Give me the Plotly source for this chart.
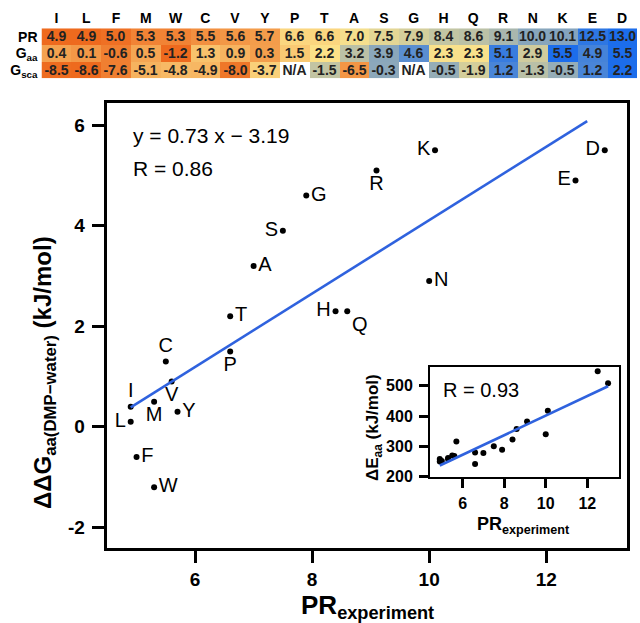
import numpy as np
import plotly.graph_objects as go

# ---------------- data ----------------
amino = ["I", "L", "F", "M", "W", "C", "V", "Y", "P", "T",
         "A", "S", "G", "H", "Q", "R", "N", "K", "E", "D"]
pr_exp = [4.9, 4.9, 5.0, 5.3, 5.3, 5.5, 5.6, 5.7, 6.6, 6.6,
          7.0, 7.5, 7.9, 8.4, 8.6, 9.1, 10.0, 10.1, 12.5, 13.0]
g_aa = [0.4, 0.1, -0.6, 0.5, -1.2, 1.3, 0.9, 0.3, 1.5, 2.2,
        3.2, 3.9, 4.6, 2.3, 2.3, 5.1, 2.9, 5.5, 4.9, 5.5]
g_sca = [-8.5, -8.6, -7.6, -5.1, -4.8, -4.9, -8.0, -3.7, None, -1.5,
         -6.5, -0.3, None, -0.5, -1.9, 1.2, -1.3, -0.5, 1.2, 2.2]
de_aa = [258, 250, 252, 258, 262, 270, 268, 316, 280, 242,
         278, 300, 289, 323, 357, 382, 340, 417, 548, 508]
row_labels = ["PR", "G<sub>aa</sub>", "G<sub>sca</sub>"]
label_pos = ["top center", "middle left", "middle right", "bottom center", "middle right",
             "top center", "bottom center", "middle right", "bottom center", "middle right",
             "middle right", "middle left", "middle right", "middle left", "bottom right",
             "bottom center", "middle right", "middle left", "middle left", "middle left"]
main_slope, main_intercept = 0.73, -3.19
main_fit_x = [4.9, 12.7]
main_r, inset_r = 0.86, 0.93

FONT = "Liberation Sans, Arial, Helvetica, sans-serif"
H = 623.0
W = 640.0


def px_x(p):
    return p / W


def px_y(p):
    return 1 - p / H


def three_color(vals):
    arr = np.array([v for v in vals if v is not None], dtype=float)
    lo, med, hi = arr.min(), np.median(arr), arr.max()
    out = []
    for v in vals:
        if v is None:
            out.append(None)
        elif v <= med:
            out.append(0.5 * (v - lo) / (med - lo))
        else:
            out.append(0.5 + 0.5 * (v - med) / (hi - med))
    return out


rows = [pr_exp, g_aa, g_sca]
z = [three_color(r) for r in rows]
txt = [["N/A" if v is None else f"{v:.1f}" for v in r] for r in rows]

fig = go.Figure()

fig.add_trace(go.Heatmap(
    z=z, x=list(range(len(amino))), y=[0, 1, 2], text=txt,
    texttemplate="%{text}", textfont=dict(family=FONT, size=14, color="#222", weight="bold"),
    colorscale=[[0, "#EE6A1E"], [0.5, "#FCE38A"], [1, "#1C6DEB"]],
    zmin=0, zmax=1, showscale=False, hoverongaps=False,
    xaxis="x", yaxis="y"))

# main scatter
fig.add_trace(go.Scatter(
    x=pr_exp, y=g_aa, mode="markers+text", text=amino, textposition=label_pos,
    marker=dict(size=6, color="black"),
    textfont=dict(family=FONT, size=20, color="black"),
    xaxis="x2", yaxis="y2", cliponaxis=False))
fx = np.array(main_fit_x)
fig.add_trace(go.Scatter(
    x=fx, y=main_slope * fx + main_intercept, mode="lines",
    line=dict(color="#2F62DE", width=2.6), xaxis="x2", yaxis="y2"))

# inset
b, a = np.polyfit(pr_exp, de_aa, 1)
ix = np.array([min(pr_exp), max(pr_exp)])
fig.add_trace(go.Scatter(
    x=pr_exp, y=de_aa, mode="markers", marker=dict(size=6, color="black"),
    xaxis="x3", yaxis="y3"))
fig.add_trace(go.Scatter(
    x=ix, y=b * ix + a, mode="lines", line=dict(color="#2F62DE", width=2.6),
    xaxis="x3", yaxis="y3"))

bold = dict(family=FONT, color="black", weight="bold")

fig.update_layout(
    width=640, height=623, margin=dict(l=0, r=0, t=0, b=0, autoexpand=False),
    paper_bgcolor="white", plot_bgcolor="white", showlegend=False,
    font=dict(family=FONT, color="black"),
    xaxis=dict(domain=[px_x(41.5), px_x(637)], range=[-0.5, 19.5], side="top",
               tickvals=list(range(len(amino))), ticktext=amino, showgrid=False,
               zeroline=False, ticks="", tickfont=dict(size=14, **bold), anchor="y",
               ticklabelstandoff=2, automargin=False),
    yaxis=dict(domain=[px_y(78.3), px_y(28.3)], range=[2.5, -0.5],
               tickvals=[0, 1, 2], ticktext=row_labels, showgrid=False, zeroline=False,
               ticks="", tickfont=dict(size=14, **bold), anchor="x", ticklabelstandoff=3,
               automargin=False),
    xaxis2=dict(domain=[px_x(106.7), px_x(627)], range=[4.49, 13.38], anchor="y2",
                tickvals=[6, 8, 10, 12], ticktext=["6", "8", "10", "12"],
                showline=True, mirror=True, linewidth=3, linecolor="black",
                ticks="outside", ticklen=12, tickwidth=3, tickcolor="black",
                showgrid=False, zeroline=False, tickfont=dict(size=19, **bold),
                ticklabelstandoff=0, automargin=False),
    yaxis2=dict(domain=[px_y(548), px_y(103)], range=[-2.41, 6.44], anchor="x2",
                tickvals=[-2, 0, 2, 4, 6], ticktext=["-2", "0", "2", "4", "6"],
                showline=True, mirror=True, linewidth=3, linecolor="black",
                ticks="outside", ticklen=12, tickwidth=3, tickcolor="black",
                showgrid=False, zeroline=False, tickfont=dict(size=19, **bold),
                ticklabelstandoff=3, automargin=False),
    xaxis3=dict(domain=[px_x(430), px_x(619.3)], range=[4.43, 13.54], anchor="y3",
                tickvals=[6, 8, 10, 12], ticktext=["6", "8", "10", "12"],
                showline=True, mirror=True, linewidth=2, linecolor="black",
                ticks="outside", ticklen=9, tickwidth=2.5, tickcolor="black",
                showgrid=False, zeroline=False, tickfont=dict(size=16, **bold),
                ticklabelstandoff=2, automargin=False),
    yaxis3=dict(domain=[px_y(476.7), px_y(367)], range=[200, 561.6], anchor="x3",
                tickvals=[200, 300, 400, 500], ticktext=["200", "300", "400", "500"],
                showline=True, mirror=True, linewidth=2, linecolor="black",
                ticks="outside", ticklen=9, tickwidth=2.5, tickcolor="black",
                showgrid=False, zeroline=False, tickfont=dict(size=16, **bold),
                ticklabelstandoff=3, automargin=False),
)

ann = [
    dict(x=px_x(131), y=px_y(135), text=f"y = {main_slope:.2f} x − {abs(main_intercept):.2f}",
         xanchor="left", yanchor="middle", font=dict(family=FONT, size=21)),
    dict(x=px_x(131), y=px_y(168), text=f"R = {main_r:.2f}", xanchor="left",
         yanchor="middle", font=dict(family=FONT, size=21)),
    dict(x=px_x(441), y=px_y(390), text=f"R = {inset_r:.2f}", xanchor="left",
         yanchor="middle", font=dict(family=FONT, size=20)),
    dict(x=px_x(367), y=px_y(606), text="<b>PR<sub>experiment</sub></b>",
         xanchor="center", yanchor="middle", font=dict(family=FONT, size=26)),
    dict(x=px_x(44), y=px_y(373), text="<b>ΔΔG<sub>aa(DMP−water)</sub> (kJ/mol)</b>",
         xanchor="center", yanchor="middle", textangle=-90, font=dict(family=FONT, size=24)),
    dict(x=px_x(523), y=px_y(525), text="<b>PR<sub>experiment</sub></b>",
         xanchor="center", yanchor="middle", font=dict(family=FONT, size=18)),
    dict(x=px_x(374), y=px_y(428), text="<b>ΔE<sub>aa</sub> (kJ/mol)</b>",
         xanchor="center", yanchor="middle", textangle=-90, font=dict(family=FONT, size=17)),
]
for d in ann:
    fig.add_annotation(xref="paper", yref="paper", showarrow=False, **d)

fig.write_html("out.html", config={"displayModeBar": False},
               post_script="document.body.style.margin='0';")
